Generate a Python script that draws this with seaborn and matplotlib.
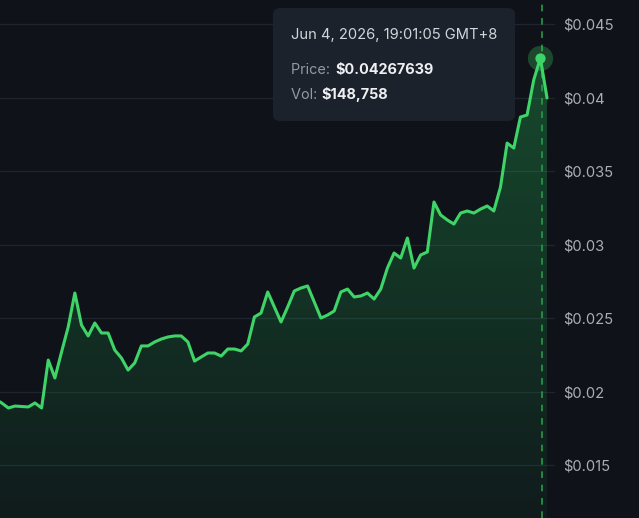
import numpy as np
import pandas as pd
import seaborn as sns
import matplotlib.pyplot as plt
from matplotlib.patches import FancyBboxPatch
from matplotlib.ticker import FuncFormatter

# Цены (по точкам графика, слева направо)
prices = [
    0.01949, 0.01922, 0.01888, 0.01901, 0.01898, 0.01895, 0.01922, 0.01888,
    0.02214, 0.02092, 0.02269, 0.02439, 0.02670, 0.02452, 0.02378, 0.02466,
    0.02398, 0.02398, 0.02282, 0.02228, 0.02146, 0.02194, 0.02310, 0.02310,
    0.02337, 0.02357, 0.02371, 0.02378, 0.02378, 0.02337, 0.02207, 0.02235,
    0.02262, 0.02262, 0.02241, 0.02289, 0.02289, 0.02276, 0.02323, 0.02507,
    0.02534, 0.02677, 0.02575, 0.02473, 0.02575, 0.02684, 0.02704, 0.02718,
    0.02609, 0.02500, 0.02520, 0.02548, 0.02677, 0.02697, 0.02643, 0.02650,
    0.02670, 0.02629, 0.02697, 0.02840, 0.02942, 0.02908, 0.03044, 0.02840,
    0.02929, 0.02949, 0.03289, 0.03201, 0.03167, 0.03139, 0.03214, 0.03228,
    0.03214, 0.03241, 0.03262, 0.03228, 0.03391, 0.03690, 0.03656, 0.03867,
    0.03881, 0.04119, 0.04267639, 0.03997,
]
y_ticks = [0.015, 0.02, 0.025, 0.03, 0.035, 0.04, 0.045]
hover_idx = 82
hover_time = "Jun 4, 2026, 19:01:05 GMT+8"
hover_price = "$0.04267639"
hover_vol = "$148,758"

df = pd.DataFrame({"t": np.arange(len(prices)), "price": prices})

bg = "#0f1319"
green = "#3fd467"

sns.set_theme(style="dark")
plt.rcParams["font.family"] = ["Inter", "DejaVu Sans"]

fig = plt.figure(figsize=(6.39, 5.18), dpi=100, facecolor=bg)
ax = fig.add_axes([0, 0, 555 / 639, 1])
ax.set_facecolor(bg)

ymin, ymax = 0.011395, 0.046633
xmin, xmax = 0.744, 84.2
ax.set_xlim(xmin, xmax)
ax.set_ylim(ymin, ymax)

# сетка
for v in y_ticks:
    ax.axhline(v, color="#1e252e", lw=0.9, zorder=0)

# градиент под линией
poly = ax.fill_between(df["t"], df["price"], ymin, color="none", lw=0)
grad = np.linspace(0, 1, 256).reshape(-1, 1)
rgba = np.zeros((256, 1, 4))
rgba[..., 0] = 0.16
rgba[..., 1] = 0.78
rgba[..., 2] = 0.36
rgba[..., 3] = 0.05 + 0.26 * grad
img = ax.imshow(rgba, extent=[xmin, df["t"].max(), ymin, max(prices)],
                origin="lower", aspect="auto", zorder=1)
img.set_clip_path(poly.get_paths()[0], transform=ax.transData)

sns.lineplot(data=df, x="t", y="price", ax=ax, color=green, lw=2.2, zorder=3)

# курсор
ax.axvline(hover_idx + 0.2, color="#2a9a4a", lw=1.2, ls=(0, (4, 4)), zorder=2)
ax.scatter([hover_idx], [prices[hover_idx]], s=330, color=green, alpha=0.28, lw=0, zorder=4)
ax.scatter([hover_idx], [prices[hover_idx]], s=55, color=green, lw=0, zorder=5)

ax.set_xticks([])
ax.set_yticks(y_ticks)
ax.yaxis.tick_right()
ax.yaxis.set_major_formatter(FuncFormatter(lambda v, p: f"${v:g}"))
ax.tick_params(axis="y", length=0, pad=6, labelsize=10.6, labelcolor="#a9afb7")
ax.set_xlabel("")
ax.set_ylabel("")
for s in ax.spines.values():
    s.set_visible(False)

# подсказка
box = FancyBboxPatch((273 / 639, 1 - 121 / 518), 242 / 639, 113 / 518,
                     boxstyle="round,pad=0,rounding_size=0.012",
                     transform=fig.transFigure, facecolor="#1c222b",
                     edgecolor="none", zorder=10)
fig.patches.append(box)
fig.text(291 / 639, 1 - 35 / 518, hover_time, color="#d2d6db", fontsize=10.6,
         va="center", zorder=11)
fig.text(291 / 639, 1 - 70 / 518, "Price: ", color="#9299a2", fontsize=10.4,
         va="center", zorder=11)
fig.text(335 / 639, 1 - 70 / 518, hover_price, color="#eef0f2", fontsize=10.4,
         fontweight="bold", va="center", zorder=11)
fig.text(291 / 639, 1 - 95 / 518, "Vol: ", color="#9299a2", fontsize=10.4,
         va="center", zorder=11)
fig.text(321 / 639, 1 - 95 / 518, hover_vol, color="#eef0f2", fontsize=10.4,
         fontweight="bold", va="center", zorder=11)

fig.savefig("out.png", dpi=100, facecolor=bg)
